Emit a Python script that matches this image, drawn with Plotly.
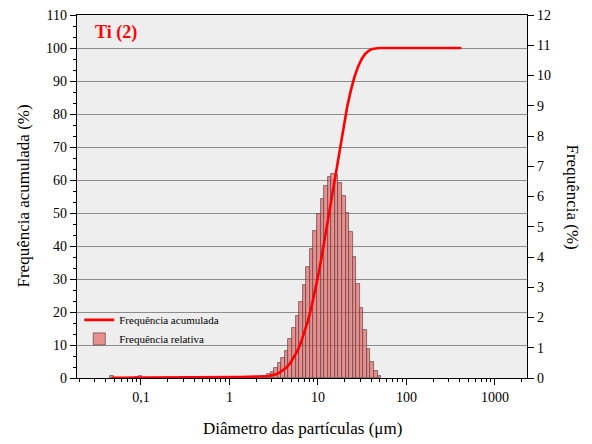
import numpy as np
import plotly.graph_objects as go

# Particle size classes (µm)
sizes = [0.0471, 0.0516, 0.0567, 0.0622, 0.0682, 0.0748, 0.0821, 0.0901, 0.0989, 0.1084,
         0.1190, 0.1305, 0.1432, 0.1571, 0.1724, 0.1892, 0.2075, 0.2277, 0.2498, 0.2742,
         0.3008, 0.3301, 0.3621, 0.3973, 0.4359, 0.4783, 0.5248, 0.5758, 0.6318, 0.6932,
         0.7605, 0.8344, 0.9155, 1.0044, 1.102, 1.209, 1.327, 1.456, 1.597, 1.752,
         1.922, 2.109, 2.314, 2.539, 2.786, 3.057, 3.354, 3.680, 4.037, 4.430,
         4.860, 5.333, 5.851, 6.420, 7.044, 7.729, 8.480, 9.304, 10.21, 11.20,
         12.29, 13.49, 14.80, 16.23, 17.81, 19.54, 21.44, 23.53, 25.81, 28.32,
         31.08, 34.10, 37.41, 41.04, 45.03, 49.41, 54.20, 59.47, 65.24, 71.58,
         78.55, 86.18, 94.56, 103.7, 113.8, 124.9, 137.0, 150.3, 164.9, 181.0,
         198.6, 217.9, 239.0, 262.3, 287.7, 315.7, 346.4, 380.1, 417.0]

# Relative frequency (%) per class
freq = [0.06, 0, 0, 0, 0, 0, 0, 0.04, 0.05,
        0.005, 0.005, 0.005, 0.005, 0.005, 0.005, 0.005, 0.005, 0.005, 0.005,
        0.005, 0.005, 0.005, 0.005, 0.005, 0.005, 0.005, 0.005, 0.005, 0.005,
        0.005, 0.005, 0.005, 0.005, 0.005, 0.005, 0.005, 0.005, 0.005, 0.005,
        0.02, 0.03, 0.04, 0.05, 0.07, 0.12,
        0.20, 0.33, 0.49, 0.66, 0.90,
        1.28, 1.66, 2.05, 2.52, 3.07,
        3.68, 4.26, 4.85, 5.41, 5.93, 6.35, 6.65, 6.76, 6.71, 6.46,
        6.01, 5.46, 4.83, 4.01, 3.12, 2.33, 1.60, 0.96, 0.54, 0.24, 0.05,
        0, 0, 0, 0, 0, 0, 0, 0, 0, 0, 0, 0, 0, 0, 0, 0, 0, 0, 0, 0, 0, 0, 0]

x_tickvals = [0.1, 1, 10, 100, 1000]
x_ticktext = ["0,1", "1", "10", "100", "1000"]
x_minor = [m * d for d in [0.01, 0.1, 1, 10, 100, 1000] for m in range(2, 10)]

s = np.array(sizes)
f = np.array(freq)
cum = np.minimum(np.cumsum(f), 100.0)

# bar edges (geometric midpoints between classes)
mid = np.sqrt(s[:-1] * s[1:])
lo = np.concatenate([[s[0] ** 2 / mid[0]], mid])
hi = np.concatenate([mid, [s[-1] ** 2 / mid[-1]]])
vis = f >= 0.02
bx = ((lo + hi) / 2)[vis]
bw = (hi - lo)[vis]

FONT = "'Liberation Serif', 'Times New Roman', Times, serif"

fig = go.Figure()
fig.add_trace(go.Scatter(
    x=s, y=cum, mode="lines", name="Frequência acumulada",
    line=dict(color="#FF0000", width=2.6), xaxis="x", yaxis="y"))
fig.add_trace(go.Bar(
    x=bx, y=f[vis], width=bw, name="Frequência relativa",
    marker=dict(color="rgba(230,80,80,0.6)", line=dict(color="rgb(110,80,80)", width=0.8)),
    xaxis="x", yaxis="y2"))

fig.update_layout(
    width=592, height=444,
    margin=dict(l=77, r=65, t=15, b=66, autoexpand=False),
    paper_bgcolor="white", plot_bgcolor="#EEEEEE",
    font=dict(family=FONT, size=14, color="black"),
    showlegend=True,
    legend=dict(x=0.005, y=0.2, xanchor="left", yanchor="top",
                bgcolor="rgba(0,0,0,0)", font=dict(size=11, family=FONT),
                itemwidth=30, tracegroupgap=0, traceorder="normal"),
    bargap=0,
    xaxis=dict(type="log", range=[-1.723, 3.362], anchor="y2", automargin=False,
               tickvals=x_tickvals, ticktext=x_ticktext,
               tickfont=dict(family=FONT, size=14),
               ticks="outside", ticklen=6, tickwidth=1, tickcolor="black",
               minor=dict(tickmode="array", tickvals=x_minor, ticks="outside", ticklen=3,
                          tickcolor="black", showgrid=False),
               showline=True, linecolor="black", linewidth=1.3, mirror=True,
               showgrid=False, zeroline=False),
    yaxis2=dict(range=[0, 12], side="right", anchor="x", automargin=False,
                tickmode="linear", tick0=0, dtick=1,
                tickfont=dict(family=FONT, size=14),
                ticks="outside", ticklen=6, tickcolor="black",
                showline=True, linecolor="black", linewidth=1.3,
                showgrid=False, zeroline=False),
    yaxis=dict(range=[0, 110], side="left", overlaying="y2", anchor="x", automargin=False,
               tickmode="linear", tick0=0, dtick=10,
               tickfont=dict(family=FONT, size=14),
               ticks="outside", ticklen=6, tickcolor="black",
               minor=dict(dtick=10 / 3, tick0=0, ticks="outside", ticklen=3,
                          tickcolor="black", showgrid=False),
               showline=True, linecolor="black", linewidth=1.3,
               showgrid=True, gridcolor="#8C8C8C", gridwidth=1, zeroline=False),
    annotations=[
        dict(text="<b>Ti (2)</b>", x=0.035, y=0.953, xref="paper", yref="paper",
             xanchor="left", yanchor="middle", showarrow=False,
             font=dict(family=FONT, size=18, color="#FF0000")),
        dict(text="Frequência acumulada (%)", x=-0.12, y=0.5, xref="paper", yref="paper",
             textangle=-90, showarrow=False, xanchor="center", yanchor="middle",
             font=dict(family=FONT, size=17)),
        dict(text="Frequência (%)", x=1.1, y=0.5, xref="paper", yref="paper",
             textangle=90, showarrow=False, xanchor="center", yanchor="middle",
             font=dict(family=FONT, size=17)),
        dict(text="Diâmetro das partículas (μm)", x=0.5, y=-0.138, xref="paper", yref="paper",
             showarrow=False, xanchor="center", yanchor="middle",
             font=dict(family=FONT, size=17)),
    ],
)

fig.write_html("out.html")
